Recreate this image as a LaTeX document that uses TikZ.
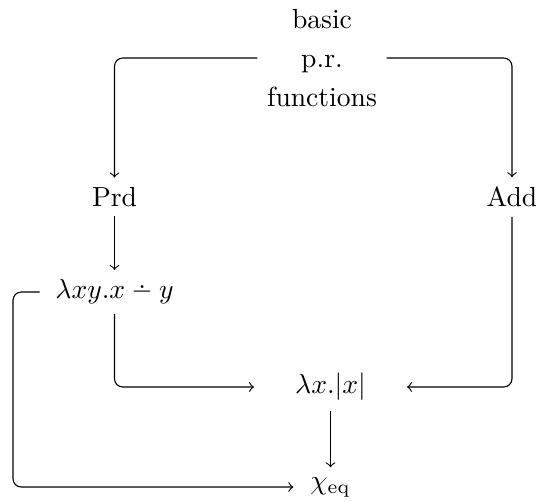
\documentclass[tikz,border=0pt]{standalone}
\usepackage{amsmath}
\newcommand{\dotminus}{\mathbin{\text{\ooalign{\hss$-$\hss\cr\hss\raisebox{3.6pt}{.}\hss}}}}
\begin{document}
\begin{tikzpicture}[x=0.3623pt,y=-0.3623pt,
  lbl/.style={inner sep=3.33pt},
  conn/.style={->,rounded corners=3pt}]
\useasboundingbox (0,0) rectangle (536,501);
\node[lbl,align=center] (top) at (322,58) {basic\\[2pt]p.r.\\[2pt]functions};
\node[lbl] (prd) at (114.5,197) {Prd};
\node[lbl] (add) at (512,197) {Add};
\node[lbl,inner xsep=5.5pt] (lxy) at (114.5,292) {$\lambda xy.x \dotminus y$};
\node[lbl,minimum width=55pt] (lx) at (330.5,387) {$\lambda x.|x|$};
\node[lbl,inner xsep=6pt] (chi) at (330.5,487) {$\chi_{\mathrm{eq}}$};
\coordinate (lc) at (13,292);
\draw[conn] (top.west) -| (prd.north);
\draw[conn] (top.east) -| (add.north);
\draw[->] (prd) -- (lxy);
\draw[conn] (lxy.south) |- (lx.west);
\draw[conn] (add.south) |- (lx.east);
\draw[->] (lx) -- (chi);
\draw[conn] (lxy.west) -- (lc) |- (chi.west);
\end{tikzpicture}
\end{document}
